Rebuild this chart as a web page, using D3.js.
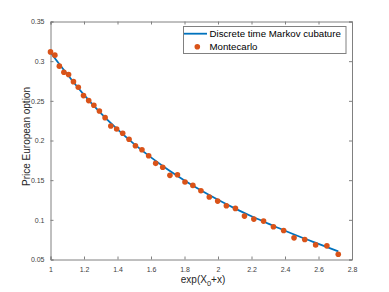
<!DOCTYPE html>
<html>
<head>
<meta charset="utf-8">
<script src="https://cdn.jsdelivr.net/npm/d3@7"></script>
<style>
  body { margin: 0; background: #fff; }
  svg { display: block; font-family: "Liberation Sans", Arial, sans-serif; }
</style>
</head>
<body>
<svg id="chart" width="389" height="292"></svg>
<script>
// valeurs
const mcX = [1.000, 1.026, 1.053, 1.080, 1.108, 1.137, 1.166, 1.197, 1.228, 1.259,
             1.292, 1.326, 1.360, 1.395, 1.431, 1.469, 1.507, 1.546, 1.586, 1.628,
             1.670, 1.713, 1.758, 1.803, 1.850, 1.898, 1.948, 1.998, 2.050, 2.104,
             2.158, 2.214, 2.272, 2.331, 2.392, 2.454, 2.518, 2.583, 2.650, 2.718];
const mcY = [0.3117, 0.3076, 0.2937, 0.2861, 0.2831, 0.2742, 0.2672, 0.2566, 0.2503, 0.2444,
             0.2372, 0.2288, 0.2183, 0.2145, 0.2091, 0.2015, 0.1934, 0.1884, 0.1808, 0.1712,
             0.1662, 0.1561, 0.1568, 0.1476, 0.1434, 0.1366, 0.1287, 0.1236, 0.1177, 0.1144,
             0.1047, 0.1009, 0.0984, 0.0912, 0.0866, 0.0773, 0.0753, 0.0684, 0.0672, 0.0567];

const cubX = [1.0, 1.1, 1.2, 1.3, 1.4, 1.5, 1.6, 1.7, 1.8, 1.9,
              2.0, 2.1, 2.2, 2.3, 2.4, 2.5, 2.6, 2.718];
const cubY = [0.3110, 0.2835, 0.2575, 0.2345, 0.2140, 0.1955, 0.1787, 0.1635, 0.1497, 0.1370,
              0.1253, 0.1145, 0.1045, 0.0953, 0.0862, 0.0777, 0.0697, 0.0602];

const xTicks = [1, 1.2, 1.4, 1.6, 1.8, 2, 2.2, 2.4, 2.6, 2.8];
const yTicks = [0.05, 0.1, 0.15, 0.2, 0.25, 0.3, 0.35];
const seriesNames = ["Discrete time Markov cubature", "Montecarlo"];

const BLEU = "#0072bd", ORANGE = "#d95319";
const AXE = "#808080", TEXTE = "#404040";

const svg = d3.select('#chart');
const mLeft = 50.5, mRight = 352, mTop = 21.5, mBottom = 259.5;

const x = d3.scaleLinear().domain([1, 2.8]).range([mLeft, mRight]);
const y = d3.scaleLinear().domain([0.05, 0.35]).range([mBottom, mTop]);

// === Axes ===
const tickLen = 3;
const gx = svg.append('g').attr('transform', `translate(0,${mBottom})`)
  .call(d3.axisBottom(x).tickValues(xTicks).tickSize(-tickLen).tickPadding(6).tickFormat(d3.format('')));
const gxTop = svg.append('g').attr('transform', `translate(0,${mTop})`)
  .call(d3.axisTop(x).tickValues(xTicks).tickSize(-tickLen).tickFormat(''));
const gy = svg.append('g').attr('transform', `translate(${mLeft},0)`)
  .call(d3.axisLeft(y).tickValues(yTicks).tickSize(-tickLen).tickPadding(6).tickFormat(d3.format('')));
const gyRight = svg.append('g').attr('transform', `translate(${mRight},0)`)
  .call(d3.axisRight(y).tickValues(yTicks).tickSize(-tickLen).tickFormat(''));

[gx, gxTop, gy, gyRight].forEach(g => {
  g.select('.domain').attr('stroke', AXE).attr('stroke-width', 1);
  g.selectAll('.tick line').attr('stroke', AXE);
  g.selectAll('.tick text').attr('fill', TEXTE).style('font-size', '7px')
    .style('font-family', '"Liberation Sans", Arial, sans-serif');
});
gx.selectAll('.tick text').attr('dy', '0.9em');

// === Courbe cubature ===
const ligne = d3.line().x((d, i) => x(cubX[i])).y(d => y(d)).curve(d3.curveMonotoneX);
svg.append('path')
  .datum(cubY)
  .attr('d', ligne)
  .attr('fill', 'none')
  .attr('stroke', BLEU)
  .attr('stroke-width', 1.8);

// === Points Montecarlo ===
svg.append('g').selectAll('circle')
  .data(mcY)
  .enter().append('circle')
  .attr('cx', (d, i) => x(mcX[i]))
  .attr('cy', d => y(d))
  .attr('r', 2.8)
  .attr('fill', ORANGE);

// === Légende ===
const leg = svg.append('g');
leg.append('rect')
  .attr('x', 183.5).attr('y', 26.5).attr('width', 162.5).attr('height', 27)
  .attr('fill', '#fff').attr('stroke', AXE).attr('stroke-width', 1);
leg.append('line')
  .attr('x1', 184).attr('x2', 207).attr('y1', 33.7).attr('y2', 33.7)
  .attr('stroke', BLEU).attr('stroke-width', 1.8);
leg.append('circle').attr('cx', 197.3).attr('cy', 46.7).attr('r', 2.8).attr('fill', ORANGE);
leg.selectAll('text.lab').data(seriesNames).enter().append('text')
  .attr('class', 'lab')
  .attr('x', 209.5)
  .attr('y', (d, i) => 37.3 + i * 12.6)
  .style('font-size', '9.7px')
  .attr('fill', '#000')
  .text(d => d);

// === Titres des axes ===
const xl = svg.append('text')
  .attr('x', 203).attr('y', 283)
  .attr('text-anchor', 'middle')
  .style('font-size', '10px')
  .attr('fill', '#262626');
xl.append('tspan').text('exp(X');
xl.append('tspan').attr('dy', 2.5).style('font-size', '7.5px').text('0');
xl.append('tspan').attr('dy', -2.5).text('+x)');

svg.append('text')
  .attr('transform', `translate(29.5,136.5) rotate(-90)`)
  .attr('text-anchor', 'middle')
  .style('font-size', '10px')
  .attr('fill', '#262626')
  .text('Price European option');
</script>
</body>
</html>
